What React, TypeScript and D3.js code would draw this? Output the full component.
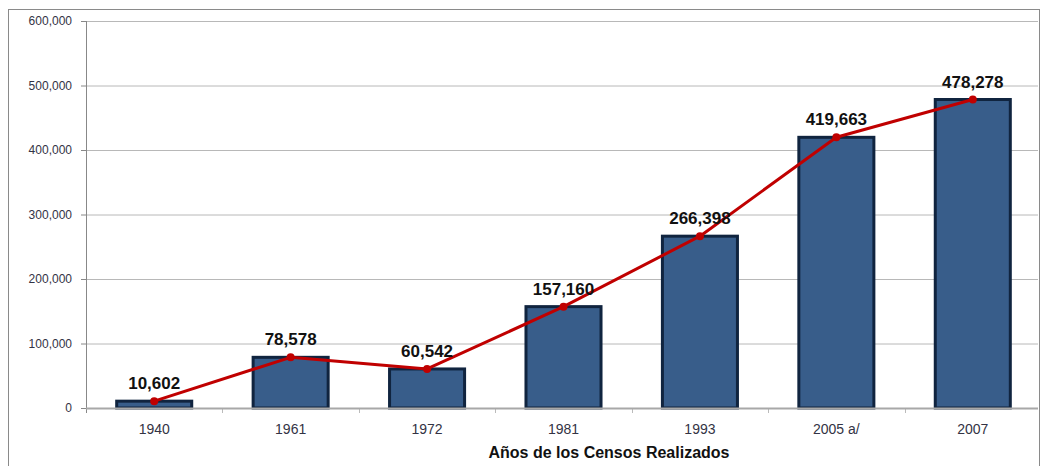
import React from "react";
import * as d3 from "d3";

const categories = ["1940", "1961", "1972", "1981", "1993", "2005 a/", "2007"];
const values = [10602, 78578, 60542, 157160, 266398, 419663, 478278];
const yTicks = [0, 100000, 200000, 300000, 400000, 500000, 600000];
const xTitle = "Años de los Censos Realizados";

export default function App() {
  const W = 1042, H = 466;
  const left = 86, right = 1041, gridRight = 1038, top = 21, bottom = 408;
  const x = d3.scaleBand<string>().domain(categories).range([left, right]).paddingInner(0.45).paddingOuter(0.225);
  const xc = d3.scaleBand<string>().domain(categories).range([left, right]);
  const y = d3.scaleLinear().domain([0, 600000]).range([bottom, top]);
  const fmt = d3.format(",");
  const line = d3.line<number>().x((_, i) => (xc(categories[i]) as number) + xc.bandwidth() / 2).y((d) => y(d));
  const font = "Arial, 'Liberation Sans', sans-serif";
  return (
    <svg width={W} height={H} style={{ position: "absolute", left: 0, top: 0 }} fontFamily={font}>
      <rect x={8.5} y={9.5} width={1031} height={470} fill="white" stroke="#8a8a8a" strokeWidth={1} />
      {yTicks.map((t) => (
        <g key={t}>
          {t > 0 && <line x1={left} x2={gridRight} y1={y(t) + 0.5} y2={y(t) + 0.5} stroke="#b8b8b8" strokeWidth={1} />}
          <line x1={left - 5} x2={left} y1={y(t) + 0.5} y2={y(t) + 0.5} stroke="#888" strokeWidth={1} />
          <text x={left - 14} y={y(t)} dy="0.35em" textAnchor="end" fontSize={12} fill="#333344">{fmt(t)}</text>
        </g>
      ))}
      <line x1={left + 0.5} x2={left + 0.5} y1={top} y2={bottom + 5} stroke="#888" strokeWidth={1} />
      {categories.map((c, i) => (
        i < categories.length - 1 ? <line key={"t" + i} x1={Math.round((xc(c) as number) + xc.bandwidth()) + 0.5} x2={Math.round((xc(c) as number) + xc.bandwidth()) + 0.5} y1={bottom} y2={bottom + 5} stroke="#bbb" strokeWidth={1} /> : null
      ))}
      {categories.map((c, i) => (
        <g key={"b" + i}>
          <rect x={x(c)} y={y(values[i])} width={x.bandwidth()} height={bottom - y(values[i])} fill="#385d8a" stroke="#10243f" strokeWidth={3} />
        </g>
      ))}
      <line x1={left} x2={gridRight} y1={bottom + 0.5} y2={bottom + 0.5} stroke="#a8a8a8" strokeWidth={2} />
      <path d={line(values) || ""} fill="none" stroke="#c00000" strokeWidth={3} strokeLinejoin="round" />
      {values.map((v, i) => (
        <circle key={"m" + i} cx={(xc(categories[i]) as number) + xc.bandwidth() / 2} cy={y(v)} r={4} fill="#c00000" />
      ))}
      {values.map((v, i) => (
        <text key={"l" + i} x={(xc(categories[i]) as number) + xc.bandwidth() / 2} y={y(v) - 12} textAnchor="middle" fontSize={17} fontWeight="bold" fill="#111">{fmt(v)}</text>
      ))}
      {categories.map((c, i) => (
        <text key={"x" + i} x={(xc(c) as number) + xc.bandwidth() / 2} y={434} textAnchor="middle" fontSize={14} fill="#333344">{c}</text>
      ))}
      <text x={609} y={458} textAnchor="middle" fontSize={16} fontWeight="bold" fill="#111">{xTitle}</text>
    </svg>
  );
}
